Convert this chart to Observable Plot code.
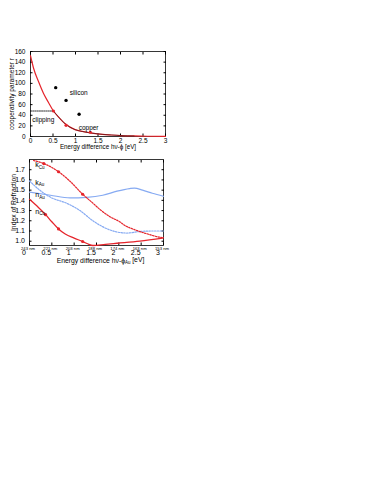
<!DOCTYPE html>
<html><head><meta charset="utf-8">
<script src="https://cdn.jsdelivr.net/npm/d3@7"></script>
<script src="https://cdn.jsdelivr.net/npm/@observablehq/plot@0.6"></script>
<style>
body{margin:0;background:#fff;}
#wrap{position:relative;width:382px;height:494px;overflow:hidden;background:#fff;}
#wrap svg{position:absolute;left:0;overflow:visible;}
</style></head><body><div id="wrap"></div>
<script>
const FONT = '"Liberation Sans", Arial, Helvetica, sans-serif';
const RED = "#e5242b";
const BLUE = "#86aaf2";

// ---------- top chart data ----------
const topXTicks = [0, 0.5, 1, 1.5, 2, 2.5, 3];
const topYTicks = [0, 20, 40, 60, 80, 100, 120, 140, 160];
const fitX = [0, 0.07, 0.18, 0.29, 0.40, 0.51, 0.62, 0.77, 0.99, 1.15, 1.36, 1.6, 1.8, 2.0, 2.3, 2.6, 3.0];
const fitR = [152, 128, 103, 81, 64, 48, 37, 24, 13, 9.5, 6.5, 4, 2.8, 1.8, 1.0, 0.5, 0.2];
const clipFlatX = [0, 0.5];
const clipFlatR = [48, 48];
const siliconX = [0.56, 0.79, 1.08];
const siliconR = [92, 68, 42];
const copperX = [0.51, 0.79, 1.33];
const copperR = [48, 21, 8];
const topLabels = ["silicon", "clipping", "copper"];
const topLabelX = [0.87, 0.04, 1.07];
const topLabelR = [82, 31, 17];

// ---------- bottom chart data ----------
const botXTicks = [0, 0.5, 1, 1.5, 2, 2.5, 3];
const nmLabels = ["243 nm", "221 nm", "203 nm", "188 nm", "174 nm", "163 nm", "153 nm"];
const evLabels = ["0", "0.5", "1", "1.5", "2", "2.5", "3"];
const botYTicks = [1.0, 1.1, 1.2, 1.3, 1.4, 1.5, 1.6, 1.7];
const kCuX = [0.09, 0.32, 0.65, 0.9, 1.19, 1.4, 1.58, 1.8, 2.02, 2.15, 2.31, 2.5, 2.69, 2.85, 3.0];
const kCuY = [1.79, 1.76, 1.68, 1.59, 1.46, 1.38, 1.31, 1.24, 1.19, 1.15, 1.12, 1.09, 1.065, 1.045, 1.035];
const kCuPtX = [0.32, 0.65, 1.19];
const kCuPtY = [1.76, 1.68, 1.46];
const nCuX = [0, 0.2, 0.36, 0.5, 0.65, 0.8, 1.0, 1.19, 1.3, 1.42, 1.7, 1.96, 2.47, 2.98];
const nCuY = [1.41, 1.33, 1.26, 1.19, 1.12, 1.07, 1.03, 0.997, 0.975, 0.958, 0.97, 0.98, 1.0, 1.03];
const nCuPtX = [0.36, 0.65, 1.19];
const nCuPtY = [1.26, 1.12, 0.997];
const nAuX = [0, 0.47, 0.91, 1.28, 1.64, 1.96, 2.24, 2.35, 2.53, 2.75, 3.0];
const nAuY = [1.48, 1.45, 1.425, 1.43, 1.45, 1.49, 1.515, 1.52, 1.50, 1.47, 1.44];
const kAuX = [0, 0.2, 0.47, 0.84, 1.13, 1.42, 1.8, 2.18, 2.47, 2.76, 3.0];
const kAuY = [1.59, 1.51, 1.43, 1.37, 1.30, 1.20, 1.11, 1.08, 1.095, 1.10, 1.10];
const botLabels = ["k_Cu", "k_Au", "n_Au", "n_Cu"];
const botLabelX = [0.13, 0.13, 0.13, 0.13];
const botLabelY = [1.745, 1.576, 1.45, 1.29];

const zip = (xs, ys) => xs.map((x, i) => ({x, y: ys[i]}));

function subscripts(svg) {
  d3.select(svg).selectAll("text").each(function () {
    const t = this.textContent;
    const m = t.match(/^(.*?)_(Cu|Au)(.*)$/);
    if (!m) return;
    const sel = d3.select(this);
    sel.text(null);
    sel.append("tspan").text(m[1]);
    sel.append("tspan").attr("dy", "0.3em").attr("font-size", "65%").text(m[2]);
    if (m[3]) sel.append("tspan").attr("dy", "-0.3em").text(m[3]);
  });
}

const wrap = document.getElementById("wrap");

const topPlot = Plot.plot({
  width: 175, height: 152,
  marginTop: 51, marginBottom: 16, marginLeft: 30, marginRight: 10,
  style: {fontFamily: FONT, fontSize: "6.5px", background: "transparent", color: "#000"},
  x: {domain: [0, 3]},
  y: {domain: [0, 160]},
  marks: [
    Plot.frame({stroke: "#222", strokeWidth: 0.9}),
    Plot.axisX({ticks: topXTicks, tickSize: -2.5, tickPadding: 4.5, tickFormat: d => String(d), label: null}),
    Plot.axisX({anchor: "top", ticks: topXTicks, tickSize: -2.5, tickFormat: () => "", label: null}),
    Plot.axisY({ticks: topYTicks, tickSize: -2.5, tickPadding: 7.5, label: null}),
    Plot.axisY({anchor: "right", ticks: topYTicks, tickSize: -2.5, tickFormat: () => "", label: null}),
    Plot.line(zip(fitX, fitR), {x: "x", y: "y", stroke: RED, strokeWidth: 1.2, curve: "monotone-x"}),
    Plot.line(zip(clipFlatX, clipFlatR), {x: "x", y: "y", stroke: "#000", strokeWidth: 0.8, strokeDasharray: "1.2,1"}),
    Plot.line(zip(fitX, fitR).filter(d => d.x >= 0.5 && d.x <= 2.3), {x: "x", y: "y", stroke: "#3a1010", strokeWidth: 0.6, curve: "monotone-x"}),
    Plot.dot(zip(siliconX, siliconR), {x: "x", y: "y", r: 1.7, fill: "#000"}),
    Plot.dot(zip(copperX, copperR), {x: "x", y: "y", r: 1.6, fill: RED}),
    Plot.text(topLabels.map((t, i) => ({t, x: topLabelX[i], y: topLabelR[i]})), {x: "x", y: "y", text: "t", textAnchor: "start", fontSize: 6.5}),
    Plot.text(["Energy difference h\u03bd-\u03d5 [eV]"], {frameAnchor: "bottom", textAnchor: "middle", dy: 12.5, fontSize: 6.3}),
    Plot.text(["cooperativity parameter r"], {frameAnchor: "left", textAnchor: "middle", rotate: -90, dx: -19, fontSize: 6.5})
  ]
});
topPlot.style.top = "0px";
wrap.appendChild(topPlot);

const botPlot = Plot.plot({
  width: 174, height: 125,
  marginTop: 9, marginBottom: 30, marginLeft: 29, marginRight: 11,
  style: {fontFamily: FONT, fontSize: "7px", background: "transparent", color: "#000"},
  x: {domain: [0, 3]},
  y: {domain: [0.958, 1.80]},
  marks: [
    Plot.frame({stroke: "#222", strokeWidth: 0.9}),
    Plot.axisX({ticks: botXTicks, tickSize: -2.5, tickFormat: () => "", label: null}),
    Plot.axisX({anchor: "top", ticks: botXTicks, tickSize: -2.5, tickFormat: () => "", label: null}),
    Plot.axisY({ticks: botYTicks, tickSize: -2.5, tickPadding: 7, tickFormat: d3.format(".1f"), label: null}),
    Plot.axisY({anchor: "right", ticks: botYTicks, tickSize: -2.5, tickFormat: () => "", label: null}),
    Plot.line(zip(nAuX, nAuY), {x: "x", y: "y", stroke: BLUE, strokeWidth: 1.2, curve: "monotone-x"}),
    Plot.line(zip(kAuX, kAuY), {x: "x", y: "y", stroke: BLUE, strokeWidth: 1.2, strokeDasharray: "1.5,1.3", curve: "monotone-x"}),
    Plot.line(zip(kCuX, kCuY), {x: "x", y: "y", stroke: RED, strokeWidth: 1.2, strokeDasharray: "1.5,1.3", curve: "monotone-x"}),
    Plot.line(zip(nCuX, nCuY), {x: "x", y: "y", stroke: RED, strokeWidth: 1.3, curve: "monotone-x"}),
    Plot.dot(zip(kCuPtX, kCuPtY), {x: "x", y: "y", r: 1.6, fill: RED}),
    Plot.dot(zip(nCuPtX, nCuPtY), {x: "x", y: "y", r: 1.6, fill: RED}),
    Plot.text(botLabels.map((t, i) => ({t, x: botLabelX[i], y: botLabelY[i]})), {x: "x", y: "y", text: "t", textAnchor: "start", fontSize: 7}),
    Plot.text(nmLabels.map((t, i) => ({t, x: botXTicks[i]})), {x: "x", text: "t", frameAnchor: "bottom", textAnchor: "middle", dy: 4, dx: -1.5, fontSize: 4.2}),
    Plot.text(evLabels.map((t, i) => ({t, x: botXTicks[i]})), {x: "x", text: "t", frameAnchor: "bottom", textAnchor: "middle", dy: 9.5, dx: -5.5, fontSize: 7}),
    Plot.text(["Energy difference h\u03bd-\u03d5_Au [eV]"], {frameAnchor: "bottom", textAnchor: "middle", dy: 17, dx: 4, fontSize: 6.8}),
    Plot.text(["Index of Refraction"], {frameAnchor: "left", textAnchor: "middle", rotate: -90, dx: -16, fontSize: 6.8})
  ]
});
botPlot.style.top = "150px";
subscripts(botPlot);
wrap.appendChild(botPlot);
</script>
</body></html>
